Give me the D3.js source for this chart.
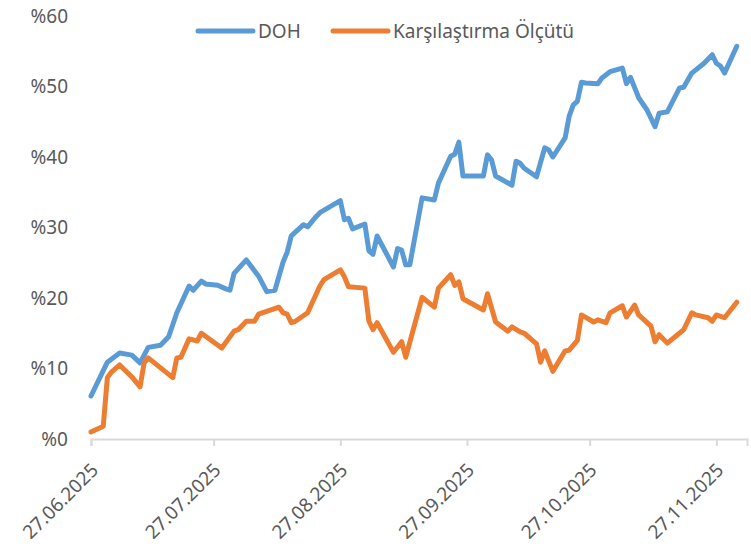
<!DOCTYPE html>
<html>
<head>
<meta charset="utf-8">
<script src="https://cdn.jsdelivr.net/npm/d3@7"></script>
<style>
  body { margin: 0; background: #fff; }
  svg text { font-family: "Noto Sans", "Open Sans", sans-serif; fill: #595959; }
</style>
</head>
<body>
<svg id="chart" width="751" height="550"></svg>
<script>
// DOH series (date, %)
const dohDates = ["2025-06-27","2025-07-01","2025-07-04","2025-07-07","2025-07-09","2025-07-11","2025-07-14","2025-07-16","2025-07-18","2025-07-21","2025-07-22","2025-07-24","2025-07-25","2025-07-28","2025-07-30","2025-07-31","2025-08-01","2025-08-04","2025-08-07","2025-08-09","2025-08-11","2025-08-13","2025-08-14","2025-08-15","2025-08-18","2025-08-19","2025-08-21","2025-08-22","2025-08-27","2025-08-28","2025-08-29","2025-08-30","2025-09-02","2025-09-03","2025-09-04","2025-09-05","2025-09-09","2025-09-10","2025-09-11","2025-09-12","2025-09-13","2025-09-16","2025-09-19","2025-09-20","2025-09-23","2025-09-24","2025-09-25","2025-09-26","2025-10-01","2025-10-02","2025-10-03","2025-10-04","2025-10-08","2025-10-09","2025-10-10","2025-10-11","2025-10-14","2025-10-16","2025-10-17","2025-10-18","2025-10-21","2025-10-22","2025-10-23","2025-10-24","2025-10-25","2025-10-26","2025-10-29","2025-10-30","2025-11-01","2025-11-04","2025-11-05","2025-11-06","2025-11-08","2025-11-10","2025-11-12","2025-11-13","2025-11-15","2025-11-18","2025-11-19","2025-11-21","2025-11-24","2025-11-26","2025-11-27","2025-11-28","2025-11-29","2025-12-02"];
const dohValues = [6.1,10.9,12.2,11.9,10.8,13.0,13.3,14.5,17.9,21.7,21.1,22.4,22.0,21.8,21.3,21.1,23.5,25.4,23.1,20.9,21.1,25.1,26.5,28.8,30.4,30.1,31.5,32.1,33.8,31.1,31.3,29.8,30.5,26.7,26.2,28.8,24.4,27.0,26.8,24.7,24.7,34.2,33.9,36.3,40.1,40.4,42.1,37.3,37.3,40.3,39.6,37.3,36.0,39.4,39.1,38.4,37.2,41.3,41.0,40.0,42.7,45.8,47.4,47.9,50.6,50.5,50.4,51.2,52.1,52.6,50.4,51.3,48.4,46.7,44.3,46.2,46.4,49.8,49.9,51.9,53.3,54.5,53.3,52.9,51.9,55.7];

// Karşılaştırma Ölçütü series (date, %)
const benchDates = ["2025-06-27","2025-06-30","2025-07-01","2025-07-02","2025-07-04","2025-07-07","2025-07-09","2025-07-10","2025-07-11","2025-07-17","2025-07-18","2025-07-19","2025-07-21","2025-07-23","2025-07-24","2025-07-29","2025-08-01","2025-08-02","2025-08-04","2025-08-06","2025-08-07","2025-08-12","2025-08-13","2025-08-14","2025-08-15","2025-08-16","2025-08-19","2025-08-22","2025-08-23","2025-08-27","2025-08-28","2025-08-29","2025-09-02","2025-09-03","2025-09-04","2025-09-05","2025-09-09","2025-09-11","2025-09-12","2025-09-16","2025-09-19","2025-09-20","2025-09-23","2025-09-24","2025-09-25","2025-09-26","2025-10-01","2025-10-02","2025-10-04","2025-10-07","2025-10-08","2025-10-10","2025-10-11","2025-10-14","2025-10-15","2025-10-16","2025-10-18","2025-10-21","2025-10-22","2025-10-24","2025-10-25","2025-10-28","2025-10-29","2025-10-31","2025-11-01","2025-11-04","2025-11-05","2025-11-07","2025-11-08","2025-11-11","2025-11-12","2025-11-13","2025-11-15","2025-11-19","2025-11-21","2025-11-22","2025-11-25","2025-11-26","2025-11-27","2025-11-29","2025-12-02"];
const benchValues = [1.0,1.8,8.7,9.5,10.5,8.8,7.4,10.8,11.5,8.7,11.5,11.6,14.2,13.9,15.0,12.9,15.3,15.5,16.7,16.7,17.7,18.7,17.9,17.7,16.5,16.7,17.9,21.7,22.6,24.0,23.0,21.6,21.4,16.7,15.5,16.5,12.3,13.8,11.6,20.1,18.7,21.4,23.3,21.8,22.3,19.9,18.3,20.6,16.6,15.3,15.9,15.2,15.0,13.5,10.9,12.5,9.6,12.5,12.6,14.0,17.6,16.6,16.9,16.5,17.9,18.9,17.3,19.0,17.6,16.0,13.8,14.8,13.6,15.5,17.9,17.6,17.2,16.7,17.6,17.2,19.4];

const tickDates = ["2025-06-27","2025-07-27","2025-08-27","2025-09-27","2025-10-27","2025-11-27"];
const yTicks = [0, 10, 20, 30, 40, 50, 60];
const seriesNames = ["DOH", "Karşılaştırma Ölçütü"];
const seriesColors = ["#5B9BD5", "#ED7D31"];

const parse = d3.timeParse("%Y-%m-%d");
const fmt = d3.timeFormat("%d.%m.%Y");

const svg = d3.select("#chart");

const x = d3.scaleTime()
  .domain([parse("2025-06-27"), new Date(2025, 11, 4, 12)])
  .range([91, 747]);

const y = d3.scaleLinear().domain([0, 60]).range([439, 16]);

// x axis
const xAxis = svg.append("g")
  .attr("transform", "translate(0,439)")
  .call(d3.axisBottom(x).tickValues(tickDates.map(parse)).tickSize(7).tickFormat(""));
xAxis.select(".domain").attr("stroke", "#d9d9d9").attr("stroke-width", 2);
xAxis.selectAll(".tick line").attr("stroke", "#d9d9d9").attr("stroke-width", 2);

svg.append("g").selectAll("text")
  .data(tickDates.map(parse))
  .join("text")
  .attr("transform", d => `translate(${x(d) - 1},${462}) rotate(-45)`)
  .attr("text-anchor", "end")
  .attr("dy", "0.7em")
  .style("font-size", "19px")
  .text(d => fmt(d));

// y axis labels (no line)
svg.append("g").selectAll("text")
  .data(yTicks)
  .join("text")
  .attr("x", 68)
  .attr("y", d => y(d))
  .attr("dy", "0.35em")
  .attr("text-anchor", "end")
  .style("font-size", "19px")
  .text(d => "%" + d);

const line = d3.line()
  .x(d => x(d[0]))
  .y(d => y(d[1]));

const series = [
  dohDates.map((d, i) => [parse(d), dohValues[i]]),
  benchDates.map((d, i) => [parse(d), benchValues[i]])
];

series.forEach((s, i) => {
  svg.append("path")
    .datum(s)
    .attr("d", line)
    .attr("fill", "none")
    .attr("stroke", seriesColors[i])
    .attr("stroke-width", 5)
    .attr("stroke-linejoin", "round")
    .attr("stroke-linecap", "round");
});

// legend
const legendX = [198, 333];
const legend = svg.append("g");
seriesNames.forEach((name, i) => {
  legend.append("line")
    .attr("x1", legendX[i]).attr("x2", legendX[i] + 55)
    .attr("y1", 31).attr("y2", 31)
    .attr("stroke", seriesColors[i])
    .attr("stroke-width", 5)
    .attr("stroke-linecap", "round");
  legend.append("text")
    .attr("x", legendX[i] + 60)
    .attr("y", 31)
    .attr("dy", "0.35em")
    .style("font-size", "19px")
    .text(name);
});
</script>
</body>
</html>
